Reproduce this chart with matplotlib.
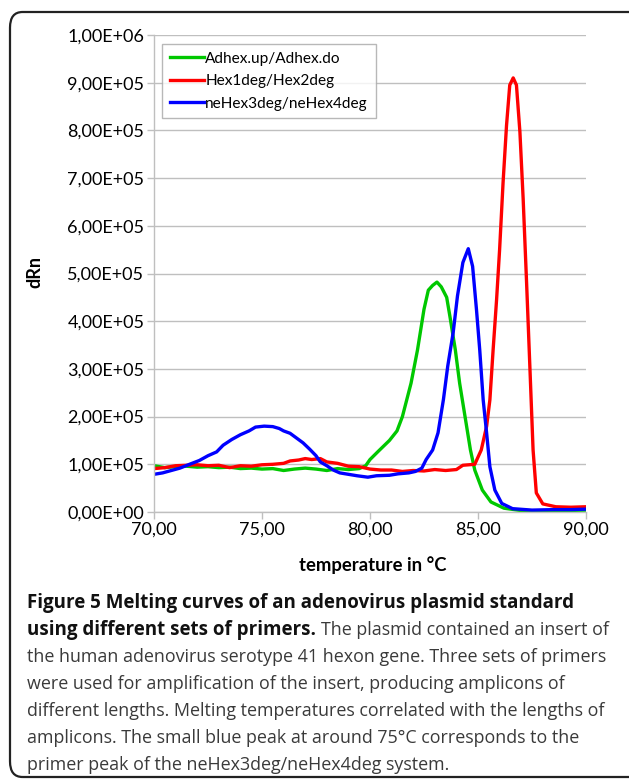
import numpy as np
import matplotlib
matplotlib.use('Agg')
import matplotlib.pyplot as plt
from matplotlib.patches import FancyBboxPatch

# Melting curves (dRn in units of 1e5)
t_green = [70, 70.5, 71, 71.5, 72, 72.5, 73, 73.5, 74, 74.5, 75, 75.5, 76, 76.5, 77, 77.5,
           78, 78.5, 79, 79.5, 79.8, 80.0, 80.4, 80.9, 81.25, 81.5, 81.9, 82.2, 82.5, 82.7,
           82.9, 83.1, 83.3, 83.55, 83.7, 83.95, 84.15, 84.4, 84.65, 84.85, 85.2, 85.6,
           86.2, 87.0, 88, 89, 90]
v_green = [0.97, 0.93, 0.95, 0.96, 0.94, 0.95, 0.93, 0.94, 0.91, 0.92, 0.90, 0.91, 0.87,
           0.90, 0.92, 0.90, 0.87, 0.91, 0.89, 0.91, 0.97, 1.10, 1.28, 1.50, 1.70, 2.00,
           2.70, 3.40, 4.25, 4.65, 4.75, 4.82, 4.72, 4.50, 4.10, 3.40, 2.70, 2.00, 1.30,
           0.88, 0.46, 0.21, 0.08, 0.03, 0.02, 0.03, 0.04]

t_red = [70, 70.5, 71, 71.5, 72, 72.5, 73, 73.5, 74, 74.5, 75, 75.5, 76, 76.3, 76.7, 77,
         77.3, 77.7, 78, 78.5, 79, 79.5, 80, 80.5, 81, 81.5, 82, 82.5, 83, 83.5, 84, 84.3,
         84.85, 85.15, 85.4, 85.55, 85.7, 85.86, 86.0, 86.16, 86.32, 86.47, 86.63, 86.78,
         86.94, 87.09, 87.25, 87.4, 87.55, 87.7, 88.0, 88.6, 89.3, 90]
v_red = [0.91, 0.93, 0.97, 0.98, 0.99, 0.97, 0.98, 0.93, 0.97, 0.96, 0.99, 1.0, 1.02, 1.07,
         1.09, 1.12, 1.10, 1.12, 1.05, 1.02, 0.96, 0.95, 0.90, 0.88, 0.88, 0.85, 0.87, 0.86,
         0.89, 0.87, 0.89, 0.98, 1.0, 1.30, 1.80, 2.35, 3.40, 4.45, 5.50, 6.90, 8.10, 8.95,
         9.10, 8.95, 7.97, 6.57, 4.80, 3.06, 1.30, 0.40, 0.17, 0.11, 0.10, 0.11]

t_blue = [70, 70.4, 70.8, 71.2, 71.7, 72.1, 72.5, 72.9, 73.2, 73.6, 74.0, 74.4, 74.7, 75.1,
          75.5, 75.8, 76.0, 76.3, 76.6, 76.9, 77.2, 77.5, 77.7, 78.0, 78.3, 78.6, 79.0,
          79.4, 79.9, 80.3, 80.9, 81.3, 81.8, 82.1, 82.4, 82.6, 82.9, 83.15, 83.4, 83.6,
          83.85, 84.05, 84.3, 84.55, 84.75, 84.93, 85.08, 85.24, 85.4, 85.55, 85.78, 86.1,
          86.6, 87.5, 88.5, 89.3, 90]
v_blue = [0.79, 0.82, 0.87, 0.92, 1.01, 1.08, 1.18, 1.26, 1.40, 1.52, 1.62, 1.70, 1.78,
          1.80, 1.79, 1.75, 1.70, 1.65, 1.55, 1.45, 1.32, 1.18, 1.05, 0.97, 0.88, 0.82,
          0.79, 0.76, 0.73, 0.76, 0.77, 0.80, 0.82, 0.85, 0.92, 1.10, 1.30, 1.66, 2.36,
          3.06, 3.76, 4.53, 5.23, 5.52, 5.15, 4.24, 3.40, 2.35, 1.65, 0.95, 0.46, 0.18,
          0.07, 0.04, 0.05, 0.05, 0.06]

labels = ['Adhex.up/Adhex.do', 'Hex1deg/Hex2deg', 'neHex3deg/neHex4deg']
x_ticks = [70, 75, 80, 85, 90]
x_ticklabels = ['70,00', '75,00', '80,00', '85,00', '90,00']
y_ticks = np.arange(0, 11) * 1e5
y_ticklabels = ['0,00E+00', '1,00E+05', '2,00E+05', '3,00E+05', '4,00E+05', '5,00E+05',
                '6,00E+05', '7,00E+05', '8,00E+05', '9,00E+05', '1,00E+06']

W, H = 629, 781
fig = plt.figure(figsize=(W / 100, H / 100), dpi=100)
plt.rcParams['font.family'] = ['Lato', 'DejaVu Sans']

# rounded frame around figure + caption
frame = FancyBboxPatch((10 / W, 4 / H), 640 / W, 765 / H,
                       boxstyle='round,pad=0,rounding_size=0.02',
                       transform=fig.transFigure, fill=False, ec='#222222', lw=1.6)
fig.patches.append(frame)

ax = fig.add_axes([154 / W, (H - 512) / H, 432 / W, 477 / H])
gray = '#BFBFBF'
ax.plot(t_green, np.array(v_green) * 1e5, color='#00C800', lw=2.4, label=labels[0])
ax.plot(t_red, np.array(v_red) * 1e5, color='#FF0000', lw=2.4, label=labels[1])
ax.plot(t_blue, np.array(v_blue) * 1e5, color='#0000FF', lw=2.4, label=labels[2])

ax.set_xlim(70, 90)
ax.set_ylim(0, 1e6)
ax.set_xticks(x_ticks)
ax.set_xticklabels(x_ticklabels, fontsize=13)
ax.set_yticks(y_ticks)
ax.set_yticklabels(y_ticklabels, fontsize=13)
ax.grid(axis='y', color=gray, lw=1)
ax.set_axisbelow(True)
for s in ['top', 'right']:
    ax.spines[s].set_visible(False)
for s in ['left', 'bottom']:
    ax.spines[s].set_color(gray)
    ax.spines[s].set_linewidth(1)
ax.tick_params(axis='both', color=gray, length=5, width=1, pad=2)

fig.text(35 / W, 1 - 272 / H, 'dRn', rotation=90, fontsize=13, fontweight='bold',
         ha='center', va='center')
fig.text(373 / W, 1 - 565 / H, 'temperature in °C', fontsize=13.3, fontweight='bold',
         ha='center', va='center')

leg = ax.legend(loc='upper left', bbox_to_anchor=(8 / 432, 1 - 9 / 477), fontsize=11.1,
                frameon=True, fancybox=False, edgecolor='#A6A6A6', handlelength=2.2,
                handletextpad=0.1, labelspacing=0.55, borderpad=0.5, borderaxespad=0)
leg.get_frame().set_linewidth(1)

# caption
cap_font = ['Open Sans', 'DejaVu Sans']
bold_size = 13.5
norm_size = 12.9
x0 = 27 / W
ys = [603, 630, 657, 684, 711, 738, 765]
fig.text(x0, 1 - ys[0] / H, 'Figure 5 Melting curves of an adenovirus plasmid standard',
         fontsize=bold_size, fontweight='bold', family=cap_font, va='center', color='#111111')
bt = fig.text(x0, 1 - ys[1] / H, 'using different sets of primers.', fontsize=bold_size,
              fontweight='bold', family=cap_font, va='center', color='#111111')
fig.canvas.draw()
bb = bt.get_window_extent(fig.canvas.get_renderer())
fig.text(bb.x1 / W + 5 / W, 1 - ys[1] / H, 'The plasmid contained an insert of',
         fontsize=norm_size, family=cap_font, va='center', color='#3a3a3a')
rest = ['the human adenovirus serotype 41 hexon gene. Three sets of primers',
        'were used for amplification of the insert, producing amplicons of',
        'different lengths. Melting temperatures correlated with the lengths of',
        'amplicons. The small blue peak at around 75°C corresponds to the',
        'primer peak of the neHex3deg/neHex4deg system.']
for line, y in zip(rest, ys[2:]):
    fig.text(x0, 1 - y / H, line, fontsize=norm_size, family=cap_font, va='center',
             color='#3a3a3a')

fig.savefig('out.png', dpi=100)
